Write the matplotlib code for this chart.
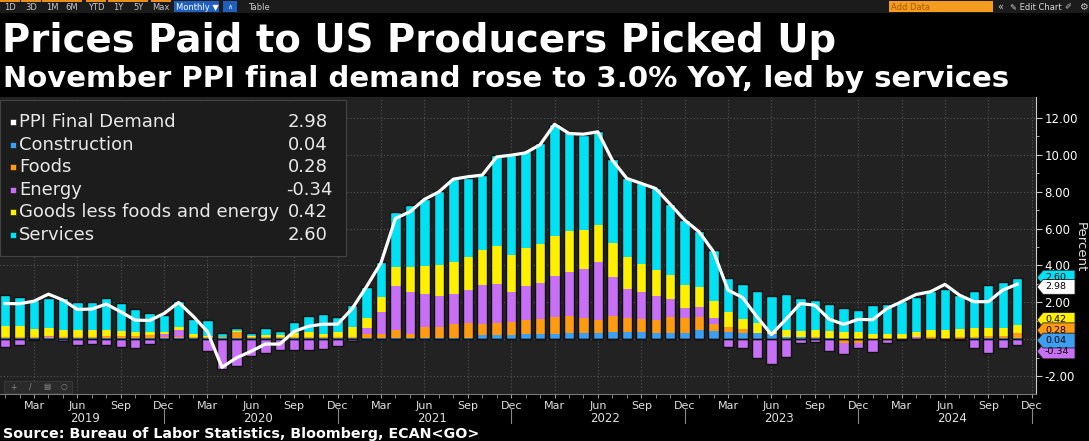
import numpy as np
import matplotlib
matplotlib.use('Agg')
import matplotlib.pyplot as plt
from matplotlib.patches import Rectangle, Polygon
import matplotlib.transforms as mtransforms

# monthly contributions to PPI final demand YoY, Jan 2019 .. Nov 2024
start_year = 2019
services = [
    1.70, 1.59, 1.56, 1.63, 1.72, 1.54, 1.54, 1.75, 1.52, 1.21, 1.01, 0.94,
    1.37, 0.85, 0.85, 0.20, 0.13, 0.15, 0.36, 0.22, 0.58, 0.85, 1.08, 0.81,
    1.21, 1.68, 1.93, 2.98, 3.35, 3.65, 4.01, 4.52, 4.34, 4.07, 4.94, 5.46,
    5.28, 5.50, 6.11, 5.39, 5.15, 5.10, 4.52, 4.25, 4.38, 4.43, 3.87, 3.53,
    3.06, 2.75, 1.81, 1.90, 1.75, 1.93, 1.95, 1.81, 1.63, 1.48, 1.30, 1.18,
    1.54, 1.63, 1.79, 1.90, 2.13, 2.26, 1.86, 2.04, 2.37, 2.53, 2.60]
goods = [
    0.58, 0.55, 0.46, 0.42, 0.38, 0.35, 0.35, 0.33, 0.26, 0.22, 0.18, 0.13,
    0.18, 0.11, 0.08, 0.03, 0.05, 0.05, 0.09, 0.09, 0.20, 0.24, 0.18, 0.27,
    0.54, 0.58, 0.78, 1.05, 1.36, 1.50, 1.66, 1.70, 1.79, 1.93, 2.06, 2.00,
    2.03, 2.10, 2.15, 2.22, 2.13, 1.99, 1.84, 1.75, 1.57, 1.43, 1.30, 1.23,
    1.05, 0.96, 0.81, 0.54, 0.54, 0.12, 0.36, 0.31, 0.36, 0.36, 0.36, 0.36,
    0.27, 0.28, 0.23, 0.30, 0.36, 0.40, 0.45, 0.45, 0.43, 0.43, 0.42]
energy = [
    -0.42, -0.34, -0.05, 0.06, -0.11, -0.34, -0.25, -0.34, -0.43, -0.49, -0.24, 0.14,
    0.36, 0.05, -0.65, -1.60, -1.45, -0.90, -0.74, -0.61, -0.61, -0.61, -0.56, -0.36,
    -0.11, 0.31, 1.18, 2.39, 2.30, 1.81, 1.72, 1.66, 1.79, 2.12, 2.10, 1.61,
    1.86, 1.99, 2.22, 2.37, 2.66, 3.13, 2.12, 1.56, 1.46, 1.28, 0.96, 0.52,
    0.58, 0.31, -0.42, -0.47, -1.05, -1.36, -0.96, -0.20, -0.18, -0.63, -0.58, -0.27,
    -0.62, -0.20, -0.05, 0.07, 0.03, -0.05, -0.05, -0.50, -0.78, -0.47, -0.34]
foods = [
    0.06, 0.07, 0.03, 0.06, 0.04, 0.07, 0.07, 0.09, 0.10, 0.11, 0.14, 0.05,
    0.07, 0.04, 0.04, 0.03, 0.33, 0.05, 0.06, 0.05, 0.06, 0.07, 0.05, 0.03,
    0.05, 0.22, 0.25, 0.43, 0.22, 0.61, 0.58, 0.76, 0.80, 0.61, 0.69, 0.74,
    0.76, 0.80, 0.94, 0.92, 0.78, 0.72, 0.87, 0.76, 0.67, 0.72, 0.87, 0.83,
    0.69, 0.36, 0.27, 0.22, 0.02, 0.02, 0.02, 0.02, 0.05, 0.03, -0.23, -0.23,
    -0.07, -0.03, -0.02, 0.01, 0.06, 0.05, 0.07, 0.10, 0.11, 0.11, 0.28]
construction = [
    0.07, 0.07, 0.07, 0.07, 0.07, 0.07, 0.07, 0.07, 0.07, 0.07, 0.07, 0.07,
    0.07, 0.05, 0.06, 0.06, 0.07, 0.06, 0.07, 0.07, 0.07, 0.07, 0.07, 0.07,
    0.07, 0.05, 0.05, 0.05, 0.05, 0.05, 0.05, 0.05, 0.05, 0.20, 0.20, 0.20,
    0.27, 0.27, 0.27, 0.34, 0.34, 0.34, 0.40, 0.40, 0.40, 0.34, 0.34, 0.34,
    0.49, 0.45, 0.40, 0.31, 0.31, 0.27, 0.12, 0.10, 0.08, 0.05, 0.03, 0.02,
    0.03, 0.02, 0.03, 0.02, 0.03, 0.03, 0.03, 0.04, 0.04, 0.04, 0.04]
ppi_total = [
    1.93, 1.92, 2.06, 2.44, 2.12, 1.61, 1.63, 1.90, 1.48, 1.03, 1.01, 1.39,
    1.99, 1.25, 0.40, -1.53, -1.02, -0.67, -0.27, -0.27, 0.42, 0.70, 0.81, 0.81,
    1.65, 2.85, 4.14, 6.55, 6.91, 7.58, 7.99, 8.68, 8.81, 8.90, 9.89, 9.98,
    10.11, 10.55, 11.66, 11.16, 11.12, 11.25, 9.71, 8.72, 8.45, 8.17, 7.32, 6.46,
    5.82, 4.74, 2.66, 2.26, 1.21, 0.25, 1.07, 1.93, 1.84, 1.08, 0.80, 1.07,
    1.05, 1.66, 2.03, 2.42, 2.57, 2.97, 2.39, 2.03, 2.03, 2.66, 2.98]

month_names = ['Jan', 'Feb', 'Mar', 'Apr', 'May', 'Jun',
               'Jul', 'Aug', 'Sep', 'Oct', 'Nov', 'Dec']

# stacking order from the zero line outwards
stack = [('Construction', construction, '#3d9ff2'),
         ('Foods', foods, '#ff9b12'),
         ('Energy', energy, '#c870f5'),
         ('Goods less foods and energy', goods, '#fff000'),
         ('Services', services, '#00e2f4')]

W, H = 1089, 441
BG = '#222222'


def fx(px):
    return px / W


def fy(py):
    return 1 - py / H


fig = plt.figure(figsize=(W / 100, H / 100), dpi=100, facecolor='black')
ax = fig.add_axes([0, fy(394), fx(1036), 297 / H])
ax.set_facecolor(BG)

n = len(ppi_total)
x = np.arange(n)
pos = np.zeros(n)
neg = np.zeros(n)
for name, vals, col in stack:
    v = np.array(vals)
    bottom = np.where(v >= 0, pos, neg)
    ax.bar(x, v, width=0.72, bottom=bottom, color=col, linewidth=0, zorder=2)
    pos = pos + np.clip(v, 0, None)
    neg = neg + np.clip(v, None, 0)

# dark outline round each bar
ax.bar(x, pos, width=0.72, fill=False, edgecolor='#101010', linewidth=1.0, zorder=3)
ax.bar(x, neg, width=0.72, fill=False, edgecolor='#101010', linewidth=1.0, zorder=3)

ax.plot(x, ppi_total, color='white', linewidth=2.3, zorder=4, solid_joinstyle='round')

ax.set_xlim(-0.35, 71.3)
ax.set_ylim(-2.98, 13.14)

# x axis: month labels every quarter, minor tick each month
major = [i for i in range(n + 1) if i % 12 in (2, 5, 8, 11)]
ax.set_xticks(major)
ax.set_xticklabels([month_names[i % 12] for i in major])
ax.set_xticks(np.arange(n + 1), minor=True)
ax.tick_params(axis='x', which='both', colors='#9a9a9a', labelcolor='#e0e0e0',
               labelsize=8, length=3, pad=2)

ax.yaxis.tick_right()
yt = np.arange(-2, 13, 2)
ax.set_yticks(yt)
# the 0.00 label sits under the value tags, so it is left blank
ax.set_yticklabels(['' if v == 0 else f'{v:.2f}' for v in yt])
ax.set_yticks(np.arange(-1, 13, 2), minor=True)
ax.tick_params(axis='y', which='major', colors='#cccccc', labelcolor='white',
               labelsize=8.5, length=4, pad=2)
ax.tick_params(axis='y', which='minor', colors='#cccccc', length=2)

ax.grid(True, which='major', color='#555555', linestyle=(0, (1, 2)), linewidth=0.8)
ax.set_axisbelow(True)
for side in ('top', 'left'):
    ax.spines[side].set_visible(False)
ax.spines['bottom'].set_color('#777777')
ax.spines['right'].set_color('#cccccc')

# year labels and separators
xb = mtransforms.blended_transform_factory(ax.transData, ax.transAxes)
for k in range(6):
    ax.text(5.5 + 12 * k, -0.081, str(start_year + k), transform=xb, ha='center',
            va='center', color='#e0e0e0', fontsize=8.5)
    sep = 11 + 12 * k
    ax.plot([sep, sep], [-0.047, -0.098], transform=xb, color='#888888',
            linewidth=0.8, clip_on=False)

# value tags on the right axis
yb = mtransforms.blended_transform_factory(ax.transAxes, ax.transData)
px = 1 / 1036.0
hh = 0.40


def tag(y, text, face):
    pts = [(1 + 1 * px, y), (1 + 7 * px, y + hh), (1 + 39 * px, y + hh),
           (1 + 39 * px, y - hh), (1 + 7 * px, y - hh)]
    ax.add_patch(Polygon(pts, closed=True, transform=yb, facecolor=face,
                         edgecolor='#222222', linewidth=0.6, clip_on=False, zorder=6))
    ax.text(1 + 9 * px, y, text, transform=yb, ha='left', va='center',
            fontsize=6.8, color='black', clip_on=False, zorder=7)


last = {name: vals[-1] for name, vals, col in stack}
cols = {name: col for name, vals, col in stack}
c_top = last['Construction']
f_top = c_top + last['Foods']
g_top = f_top + last['Goods less foods and energy']
s_top = g_top + last['Services']
# tags are nudged apart a little, as the terminal does
tag(s_top, f"{last['Services']:.2f}", cols['Services'])
tag(ppi_total[-1] - 0.15, f'{ppi_total[-1]:.2f}', 'white')
tag(g_top + 0.3, f"{last['Goods less foods and energy']:.2f}", cols['Goods less foods and energy'])
tag(f_top + 0.16, f"{last['Foods']:.2f}", cols['Foods'])
tag(last['Energy'] - 0.33, f"{last['Energy']:.2f}", cols['Energy'])
tag(c_top - 0.12, f"{last['Construction']:.2f}", cols['Construction'])

fig.text(fx(1080), fy(247), 'Percent', rotation=270, ha='center', va='center',
         color='#e0e0e0', fontsize=9.5)

# legend box
fig.patches.append(Rectangle((fx(0), fy(256)), 346 / W, 156 / H, transform=fig.transFigure,
                             facecolor='#1c1c1c', edgecolor='#444444', linewidth=0.8))
legend_rows = [('PPI Final Demand', ppi_total[-1], 'white')] + \
    [(name, vals[-1], col) for name, vals, col in stack]
for i, (name, val, col) in enumerate(legend_rows):
    yy = 122 + 22.6 * i
    fig.patches.append(Rectangle((fx(10), fy(yy + 3)), 6 / W, 6 / H,
                                 transform=fig.transFigure, facecolor=col,
                                 edgecolor='#111111', linewidth=0.4))
    fig.text(fx(19), fy(yy), name, ha='left', va='center', color='#e8e8e8', fontsize=13)
    fig.text(fx(288) if val >= 0 else fx(286), fy(yy), f'{val:.2f}', ha='left',
             va='center', color='#e8e8e8', fontsize=13)

# titles and source
fig.text(fx(2), fy(52), 'Prices Paid to US Producers Picked Up', ha='left',
         va='baseline', color='white', fontsize=27.8, fontweight='bold')
fig.text(fx(3), fy(87), 'November PPI final demand rose to 3.0% YoY, led by services',
         ha='left', va='baseline', color='white', fontsize=21, fontweight='bold')
fig.text(fx(3), fy(438), 'Source: Bureau of Labor Statistics, Bloomberg, ECAN<GO>',
         ha='left', va='baseline', color='white', fontsize=10.3, fontweight='bold')

# toolbar strip at the top
fig.patches.append(Rectangle((0, fy(13)), 1, 13 / H, transform=fig.transFigure,
                             facecolor='#1b1b1b', edgecolor='none'))
buttons = [('1D', 10), ('3D', 31), ('1M', 52), ('6M', 72), ('YTD', 96),
           ('1Y', 118), ('5Y', 138), ('Max', 161)]
for label, cx in buttons:
    fig.patches.append(Rectangle((fx(cx - 10), fy(1.5)), 20 / W, 1.5 / H,
                                 transform=fig.transFigure, facecolor='#e8901a',
                                 edgecolor='none'))
    fig.text(fx(cx), fy(7), label, ha='center', va='center', color='#c8c8c8', fontsize=6)
fig.patches.append(Rectangle((fx(174), fy(12)), 45 / W, 11 / H, transform=fig.transFigure,
                             facecolor='#1f5fbf', edgecolor='none'))
fig.text(fx(197), fy(7), 'Monthly \u25bc', ha='center', va='center', color='white', fontsize=6)
fig.patches.append(Rectangle((fx(223), fy(12)), 14 / W, 11 / H, transform=fig.transFigure,
                             facecolor='#1f5fbf', edgecolor='none'))
fig.text(fx(230), fy(7), '\u2227', ha='center', va='center', color='white', fontsize=5)
fig.text(fx(259), fy(7), 'Table', ha='center', va='center', color='#c8c8c8', fontsize=6)
fig.patches.append(Rectangle((fx(889), fy(12)), 104 / W, 11 / H, transform=fig.transFigure,
                             facecolor='#f39c1f', edgecolor='none'))
fig.text(fx(891), fy(7), 'Add Data', ha='left', va='center', color='#a55a00', fontsize=6)
fig.text(fx(1000), fy(7), '\u00ab', ha='center', va='center', color='#c8c8c8', fontsize=7)
fig.text(fx(1010), fy(7), '\u270e Edit Chart', ha='left', va='center', color='#d8d8d8',
         fontsize=6)
fig.text(fx(1068), fy(7), '\u2710', ha='center', va='center', color='#c8c8c8', fontsize=6)
fig.text(fx(1083), fy(7), '\u2699', ha='center', va='center', color='#c8c8c8', fontsize=7)

# small chart-tools box bottom left
fig.patches.append(Rectangle((fx(4), fy(393)), 68 / W, 12 / H, transform=fig.transFigure,
                             facecolor='#2a2a2a', edgecolor='#3c3c3c', linewidth=0.6))
for gx, g in zip([13, 30, 47, 64], ['+', '/', '\u25a4', '\u25cb']):
    fig.text(fx(gx), fy(387), g, ha='center', va='center', color='#8a8a8a', fontsize=5.5)

fig.savefig('out.png', dpi=100, facecolor='black')
